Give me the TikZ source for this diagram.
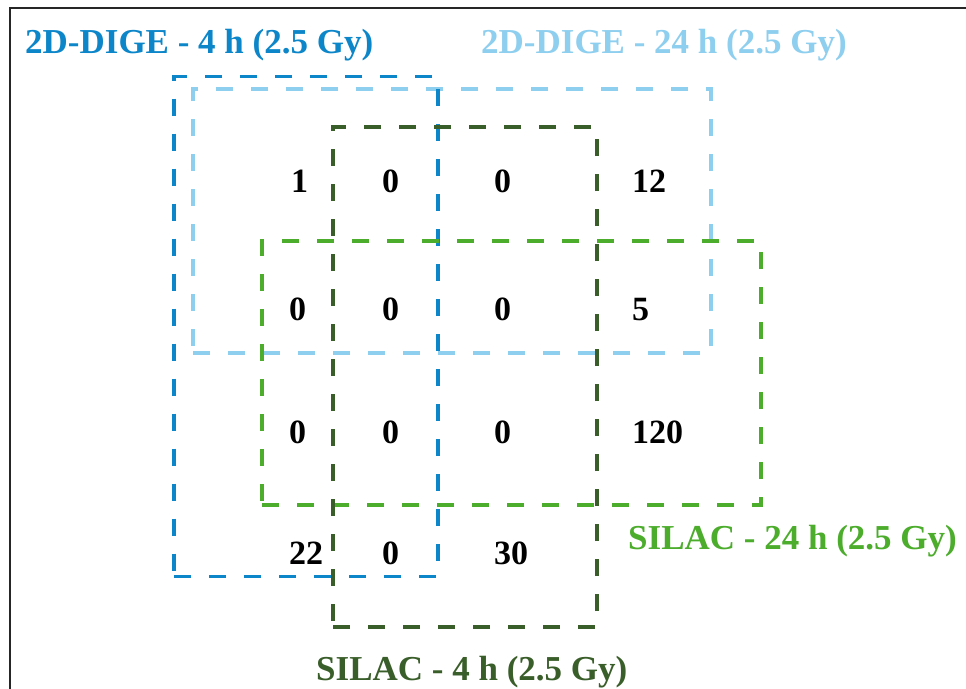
\documentclass[tikz,border=0pt]{standalone}
\usepackage{fontspec}
\setmainfont{Liberation Serif}
\usetikzlibrary{positioning}
\definecolor{digedark}{RGB}{12,134,200}
\definecolor{digelight}{RGB}{142,206,238}
\definecolor{silacdark}{RGB}{58,94,42}
\definecolor{silaclight}{RGB}{76,172,44}
\tikzset{%
  setbox/.style={draw, line width=3.5pt, dash pattern=on 17pt off 18pt, minimum width=264pt, minimum height=500pt, inner sep=0pt, outer sep=0pt},
  widebox/.style={setbox, minimum width=500pt, minimum height=264pt},
  setnum/.style={anchor=base west, inner sep=0pt, font=\fontsize{34}{40}\selectfont\bfseries},
  setlabel/.style={setnum, font=\fontsize{35}{42}\selectfont\bfseries},
}

\begin{document}
\begin{tikzpicture}[x=1pt, y=-1pt]
  \useasboundingbox (0,0) rectangle (966,688);
  % frame, cut by the page on the right and bottom
  \draw [line width=2pt, black!85] (10,700) -- (10,8) -- (980,8);

  % the four sets
  \node (dige24) [widebox, draw=digelight, minimum width=518pt] at (452,221) {};
  \node (dige4) [setbox, draw=digedark] at (306,326.5) {};
  \node (silac24) [widebox, draw=silaclight, minimum width=499pt] at (511.5,373) {};
  \node (silac4) [setbox, draw=silacdark] at (465,377) {};

  % set names
  \node (ldige4) [setlabel, text=digedark] at (25,53) {2D-DIGE - 4 h (2.5 Gy)};
  \node (ldige24) [setlabel, text=digelight] at (481,53) {2D-DIGE - 24 h (2.5 Gy)};
  \node (lsilac24) [setlabel, text=silaclight] at (628,549) {SILAC - 24 h (2.5 Gy)};
  \node (lsilac4) [setlabel, text=silacdark] at (316,680) {SILAC - 4 h (2.5 Gy)};

  % counts
  \foreach \nm/\xx/\yy/\val in {a1/291/192/1, a2/382/192/0, a3/494/192/0, a4/632/192/12,
      b1/289/320/0, b2/382/320/0, b3/494/320/0, b4/632/320/5,
      c1/289/443/0, c2/382/443/0, c3/494/443/0, c4/632/443/120,
      d1/289/564/22, d2/382/564/0, d3/494/564/30}
    \node (\nm) [setnum] at (\xx,\yy) {\val};
\end{tikzpicture}
\end{document}
